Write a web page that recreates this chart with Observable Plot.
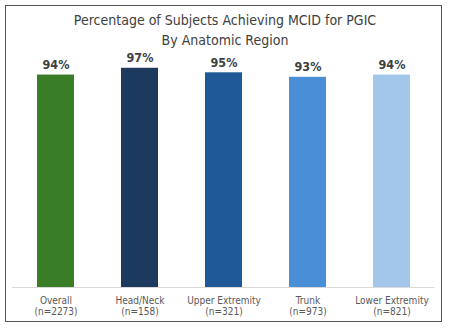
<!DOCTYPE html>
<html>
<head>
<meta charset="utf-8">
<script src="https://cdn.jsdelivr.net/npm/d3@7"></script>
<script src="https://cdn.jsdelivr.net/npm/@observablehq/plot@0.6"></script>
<style>
  html, body { margin: 0; padding: 0; background: #fff; }
  #wrap { position: relative; width: 450px; height: 328px; overflow: hidden; }
  #frame { position: absolute; left: 5px; top: 5px; width: 435px; height: 315px; border: 1.5px solid #555; box-sizing: content-box; pointer-events: none; }
  .title { position: absolute; left: 0; width: 450px; text-align: center; font-family: "DejaVu Sans Condensed", "Liberation Sans", sans-serif; font-size: 14px; color: #404040; line-height: 1; }
  #chart { position: absolute; left: 0; top: 0; }
</style>
</head>
<body>
<div id="wrap">
  <div id="chart"></div>
  <div class="title" style="top:13px">Percentage of Subjects Achieving MCID for PGIC</div>
  <div class="title" style="top:33px">By Anatomic Region</div>
  <div id="frame"></div>
</div>
<script>
const categories = ["Overall", "Head/Neck", "Upper Extremity", "Trunk", "Lower Extremity"];
const sampleSizes = ["(n=2273)", "(n=158)", "(n=321)", "(n=973)", "(n=821)"];
const percentages = [94, 97, 95, 93, 94];
const barColors = ["#3a7d27", "#1b3a5e", "#1f5a96", "#4a8fd6", "#a3c7ea"];

const data = categories.map((c, i) => ({category: c, n: sampleSizes[i], value: percentages[i], color: barColors[i]}));
const nByCat = new Map(categories.map((c, i) => [c, sampleSizes[i]]));

const font = "'DejaVu Sans Condensed', 'Liberation Sans', sans-serif";

const chart = Plot.plot({
  width: 450,
  height: 328,
  marginLeft: 12,
  marginRight: 15.5,
  marginTop: 61,
  marginBottom: 41,
  style: {fontFamily: font, background: "transparent"},
  x: {domain: categories, paddingInner: 0.56, paddingOuter: 0.28, label: null},
  y: {domain: [0, 100], axis: null},
  marks: [
    Plot.barY(data, {x: "category", y: "value", fill: "color"}),
    Plot.ruleY([0], {stroke: "#d9d9d9", strokeWidth: 1}),
    Plot.text(data, {x: "category", y: "value", text: d => d.value + "%", dy: -6, lineAnchor: "bottom", fontWeight: "bold", fontSize: 12.5, fill: "#404040"}),
    Plot.axisX({tickSize: 0, tickPadding: 9, fontSize: 10, lineHeight: 1.1, fill: "#595959", tickFormat: c => c + "\n" + nByCat.get(c), label: null})
  ]
});
document.getElementById("chart").appendChild(chart);
</script>
</body>
</html>
